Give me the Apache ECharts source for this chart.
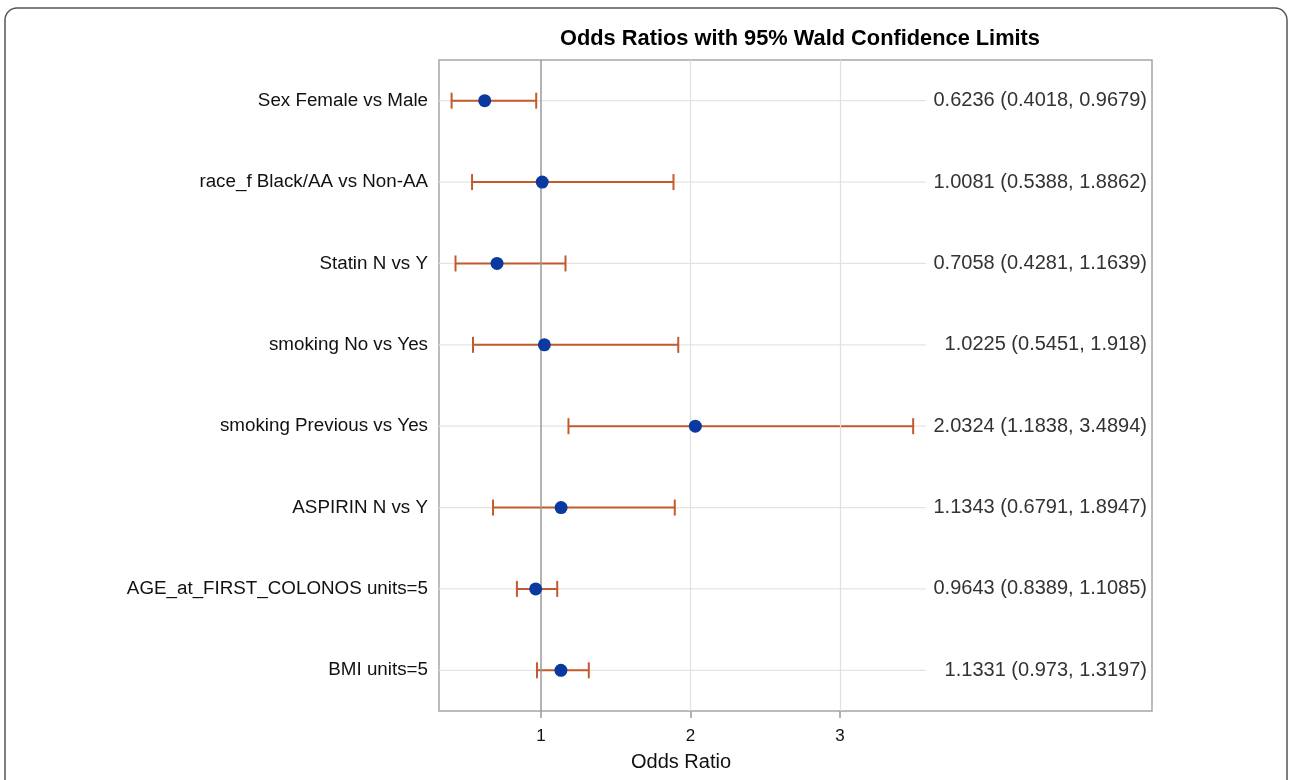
<!DOCTYPE html>
<html>
<head>
<meta charset="utf-8">
<script src="https://cdn.jsdelivr.net/npm/echarts@6/dist/echarts.min.js"></script>
<style>
html,body{margin:0;padding:0;background:#fff;}
#c{width:1290px;height:780px;}
</style>
</head>
<body>
<div id="c"></div>
<script>
const categories = [
  'Sex Female vs Male',
  'race_f Black/AA vs Non-AA',
  'Statin N vs Y',
  'smoking No vs Yes',
  'smoking Previous vs Yes',
  'ASPIRIN N vs Y',
  'AGE_at_FIRST_COLONOS units=5',
  'BMI units=5'
];
const oddsRatio = [0.6236, 1.0081, 0.7058, 1.0225, 2.0324, 1.1343, 0.9643, 1.1331];
const lowerCL   = [0.4018, 0.5388, 0.4281, 0.5451, 1.1838, 0.6791, 0.8389, 0.973];
const upperCL   = [0.9679, 1.8862, 1.1639, 1.918, 3.4894, 1.8947, 1.1085, 1.3197];
const xTicks = [1, 2, 3];

const rightLabels = categories.map((c, i) => oddsRatio[i] + ' (' + lowerCL[i] + ', ' + upperCL[i] + ')');
const font = '"Liberation Sans", Arial, sans-serif';

const chart = echarts.init(document.getElementById('c'), null, {renderer: 'canvas'});

const option = {
  animation: false,
  backgroundColor: '#fff',
  title: {
    text: 'Odds Ratios with 95% Wald Confidence Limits',
    left: 795, top: 23, textAlign: 'center',
    textStyle: {fontFamily: font, fontSize: 21.8, fontWeight: 'bold', color: '#000'}
  },
  graphic: [
    {type: 'rect', shape: {x: 5, y: 8, width: 1282, height: 820, r: 12},
     style: {fill: 'none', stroke: '#555', lineWidth: 1.5}, z: -1},
    {type: 'text', x: 681, y: 762,
     style: {text: 'Odds Ratio', fontFamily: font, fontSize: 20, fill: '#111', align: 'center', verticalAlign: 'middle'}}
  ],
  grid: {left: 439, top: 60, right: 138, bottom: 69, show: true, borderColor: '#a6a6a6', borderWidth: 1.5, backgroundColor: 'transparent'},
  xAxis: {
    type: 'value', min: 0.3177, max: 5.087,
    axisLine: {show: false},
    splitLine: {show: false},
    axisTick: {show: true, customValues: xTicks, length: 7, lineStyle: {color: '#999', width: 1.5}},
    axisLabel: {customValues: xTicks, margin: 17, fontFamily: font, fontSize: 17, color: '#111'}
  },
  yAxis: [
    {
      type: 'category', data: categories, inverse: true,
      axisLine: {show: false}, axisTick: {show: false}, splitLine: {show: false},
      axisLabel: {margin: 11, fontFamily: font, fontSize: 18.8, color: '#111'}
    },
    {
      type: 'category', data: rightLabels, inverse: true, position: 'right',
      axisLine: {show: false}, axisTick: {show: false}, splitLine: {show: false},
      axisLabel: {inside: true, margin: 5, fontFamily: font, fontSize: 20, color: '#333'}
    }
  ],
  series: [
    {
      type: 'custom',
      data: categories.map((c, i) => [i, lowerCL[i], upperCL[i]]),
      encode: {y: 0, x: [1, 2]},
      z: 2,
      renderItem: function (params, api) {
        const idx = api.value(0);
        const lo = api.coord([api.value(1), idx]);
        const hi = api.coord([api.value(2), idx]);
        const cs = params.coordSys;
        const cap = 8;
        const col = '#C35A2E';
        return {
          type: 'group',
          children: [
            {type: 'line', z2: 0, shape: {x1: cs.x, y1: lo[1], x2: cs.x + cs.width * 0.683, y2: lo[1]},
             style: {stroke: '#e4e4e4', lineWidth: 1.2}},
            {type: 'line', z2: 2, shape: {x1: lo[0], y1: lo[1], x2: hi[0], y2: hi[1]}, style: {stroke: col, lineWidth: 2}},
            {type: 'line', z2: 2, shape: {x1: lo[0], y1: lo[1] - cap, x2: lo[0], y2: lo[1] + cap}, style: {stroke: col, lineWidth: 2}},
            {type: 'line', z2: 2, shape: {x1: hi[0], y1: hi[1] - cap, x2: hi[0], y2: hi[1] + cap}, style: {stroke: col, lineWidth: 2}}
          ]
        };
      },
      markLine: {
        silent: true, symbol: 'none', label: {show: false},
        data: [
          {xAxis: 2, lineStyle: {color: '#e0e0e0', width: 1.2, type: 'solid'}},
          {xAxis: 3, lineStyle: {color: '#e0e0e0', width: 1.2, type: 'solid'}},
          {xAxis: 1, lineStyle: {color: '#9a9a9a', width: 1.5, type: 'solid'}}
        ]
      }
    },
    {
      type: 'scatter',
      data: categories.map((c, i) => [oddsRatio[i], i]),
      symbol: 'circle', symbolSize: 13,
      itemStyle: {color: '#0A3A9F', opacity: 1},
      z: 5
    }
  ]
};
chart.setOption(option);
</script>
</body>
</html>
